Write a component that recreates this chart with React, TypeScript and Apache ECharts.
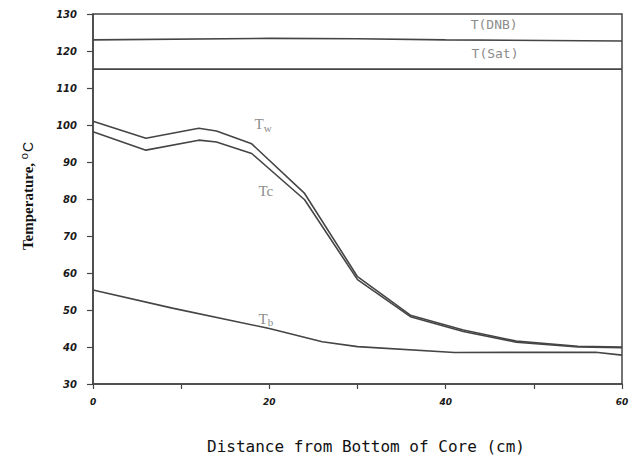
import React, { useEffect, useRef } from "react";
import * as echarts from "echarts";

// Data
const distanceWC = [0, 6, 12, 14, 18, 24, 30, 36, 42, 48, 55, 60];
const tempW = [101, 96.4, 99.1, 98.4, 94.9, 81.5, 59, 48.6, 44.6, 41.6, 40.2, 40];
const tempC = [98.2, 93.2, 95.9, 95.4, 92.3, 79.8, 58.2, 48.2, 44.2, 41.3, 40.0, 39.8];

const distanceB = [0, 9, 20, 26, 30, 41, 57, 60];
const tempB = [55.4, 50.5, 45, 41.4, 40.1, 38.5, 38.6, 37.8];

const distanceDNB = [0, 20, 30, 40, 60];
const tempDNB = [123, 123.4, 123.3, 123, 122.7];

const distanceSat = [0, 60];
const tempSat = [115.1, 115.1];

const xTickLabels = [0, 20, 40, 60];

const pairs = (xs: number[], ys: number[]) => xs.map((x, i) => [x, ys[i]]);

const LINE = "#454545";
const ANNO = "#8c8c8c";

const annotation = (coord: number[], text: string, rich: any) => ({
  symbol: "circle",
  symbolSize: 0,
  silent: true,
  data: [{ coord, value: 0 }],
  label: {
    show: true,
    position: "inside",
    formatter: text,
    rich,
  },
});

const serifRich = {
  t: { fontFamily: "Liberation Serif", fontSize: 15, color: ANNO },
  s: { fontFamily: "Liberation Serif", fontSize: 11, color: ANNO, padding: [7, 0, 0, 0] },
};
const monoRich = {
  m: { fontFamily: "DejaVu Sans Mono", fontSize: 13, color: ANNO },
};

export default function App() {
  const ref = useRef<HTMLDivElement>(null);
  useEffect(() => {
    document.body.style.margin = "0";
    const chart = echarts.init(ref.current!, null, { renderer: "svg" });
    const lineStyle = { color: LINE, width: 1.6 };
    chart.setOption({
      animation: false,
      backgroundColor: "#ffffff",
      grid: {
        left: 93,
        right: 15,
        top: 14,
        bottom: 77,
        show: true,
        borderColor: LINE,
        borderWidth: 1.5,
      },
      xAxis: {
        type: "value",
        min: 0,
        max: 60,
        interval: 10,
        axisLine: { show: true, lineStyle: { color: LINE, width: 1.5 } },
        axisTick: { show: true, length: 5, lineStyle: { color: LINE, width: 1.2 } },
        splitLine: { show: false },
        axisLabel: {
          margin: 13,
          showMinLabel: true,
          showMaxLabel: true,
          formatter: (v: number) => (xTickLabels.includes(v) ? String(v) : ""),
          fontFamily: "DejaVu Sans",
          fontStyle: "italic",
          fontWeight: "bold",
          fontSize: 9,
          color: "#1a1a1a",
        },
      },
      yAxis: {
        type: "value",
        min: 30,
        max: 130,
        interval: 10,
        axisLine: { show: true, lineStyle: { color: LINE, width: 1.5 } },
        axisTick: { show: true, length: 6, lineStyle: { color: LINE, width: 1.2 } },
        splitLine: { show: false },
        axisLabel: {
          margin: 16,
          fontFamily: "DejaVu Sans",
          fontStyle: "italic",
          fontWeight: "bold",
          fontSize: 10,
          color: "#1a1a1a",
        },
      },
      graphic: [
        {
          type: "text",
          x: 28,
          y: 196,
          rotation: Math.PI / 2,
          style: {
            text: "{a|Temperature, }{sup|o}{c|C}",
            align: "center",
            verticalAlign: "middle",
            rich: {
              a: { fontFamily: "Liberation Serif", fontWeight: "bold", fontSize: 15, fill: "#111" },
              sup: { fontFamily: "Liberation Sans", fontSize: 11, fill: "#111", verticalAlign: "top", padding: [0, 1, 8, 0] },
              c: { fontFamily: "Liberation Sans", fontSize: 14, fill: "#111" },
            },
          },
        },
        {
          type: "text",
          x: 366,
          y: 446,
          style: {
            text: "Distance from Bottom of Core (cm)",
            align: "center",
            verticalAlign: "middle",
            fontFamily: "DejaVu Sans Mono",
            fontSize: 16,
            fill: "#111",
          },
        },
      ],
      series: [
        {
          name: "T(DNB)",
          type: "line",
          data: pairs(distanceDNB, tempDNB),
          showSymbol: false,
          lineStyle,
          markPoint: annotation([45.5, 127.1], "{m|T(DNB)}", monoRich),
        },
        {
          name: "T(Sat)",
          type: "line",
          data: pairs(distanceSat, tempSat),
          showSymbol: false,
          lineStyle,
          markPoint: annotation([45.6, 119.2], "{m|T(Sat)}", monoRich),
        },
        {
          name: "Tw",
          type: "line",
          data: pairs(distanceWC, tempW),
          showSymbol: false,
          lineStyle,
          markPoint: annotation([19.3, 100.2], "{t|T}{s|w}", serifRich),
        },
        {
          name: "Tc",
          type: "line",
          data: pairs(distanceWC, tempC),
          showSymbol: false,
          lineStyle,
          markPoint: annotation([19.6, 82.2], "{t|Tc}", serifRich),
        },
        {
          name: "Tb",
          type: "line",
          data: pairs(distanceB, tempB),
          showSymbol: false,
          lineStyle,
          markPoint: annotation([19.6, 47.6], "{t|T}{s|b}", serifRich),
        },
      ],
    });
    return () => chart.dispose();
  }, []);
  return (
    <div
      ref={ref}
      style={{ position: "fixed", left: 0, top: 0, width: 637, height: 461, background: "#fff" }}
    />
  );
}
